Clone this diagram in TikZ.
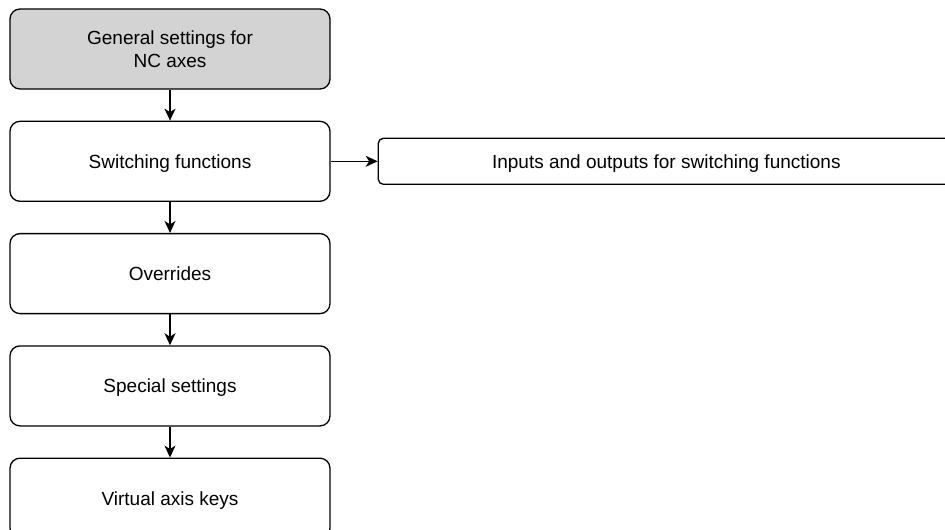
\documentclass[tikz,border=0pt]{standalone}
\usepackage{fontspec}
\setmainfont{Liberation Sans}
\usetikzlibrary{arrows.meta, positioning}
\definecolor{general}{HTML}{D3D3D3}

\begin{document}
\begin{tikzpicture}[x=1pt, y=-1pt,
  box/.style={draw, rounded corners=10pt, line width=1.3pt,
    minimum width=320pt, minimum height=80pt, inner sep=0pt,
    align=center, font=\fontsize{19}{23}\selectfont},
  oneline/.style={box, text height=14pt, text depth=0pt},
  flow/.style={-{Stealth[length=12pt, width=11pt, inset=3.5pt]}, line width=1.3pt}]
  \useasboundingbox (0,0) rectangle (945,530);
  % main column
  \node[box, fill=general, yshift=-1pt] (general) at (170,48) {General settings for\\NC axes};
  \node[oneline, below=31pt of general] (switching) {Switching functions};
  \node[oneline, below=31pt of switching] (overrides) {Overrides};
  \node[oneline, below=31pt of overrides] (special) {Special settings};
  \node[oneline, below=31pt of special] (virtual) {Virtual axis keys};
  % side box
  \node[oneline, minimum width=576pt, minimum height=46pt, rounded corners=5pt,
    right=47pt of switching] (io) {Inputs and outputs for switching functions};
  \draw[flow] (general) -- (switching);
  \draw[flow] (switching) -- (overrides);
  \draw[flow] (overrides) -- (special);
  \draw[flow] (special) -- (virtual);
  \draw[flow] (switching) -- (io);
\end{tikzpicture}
\end{document}
